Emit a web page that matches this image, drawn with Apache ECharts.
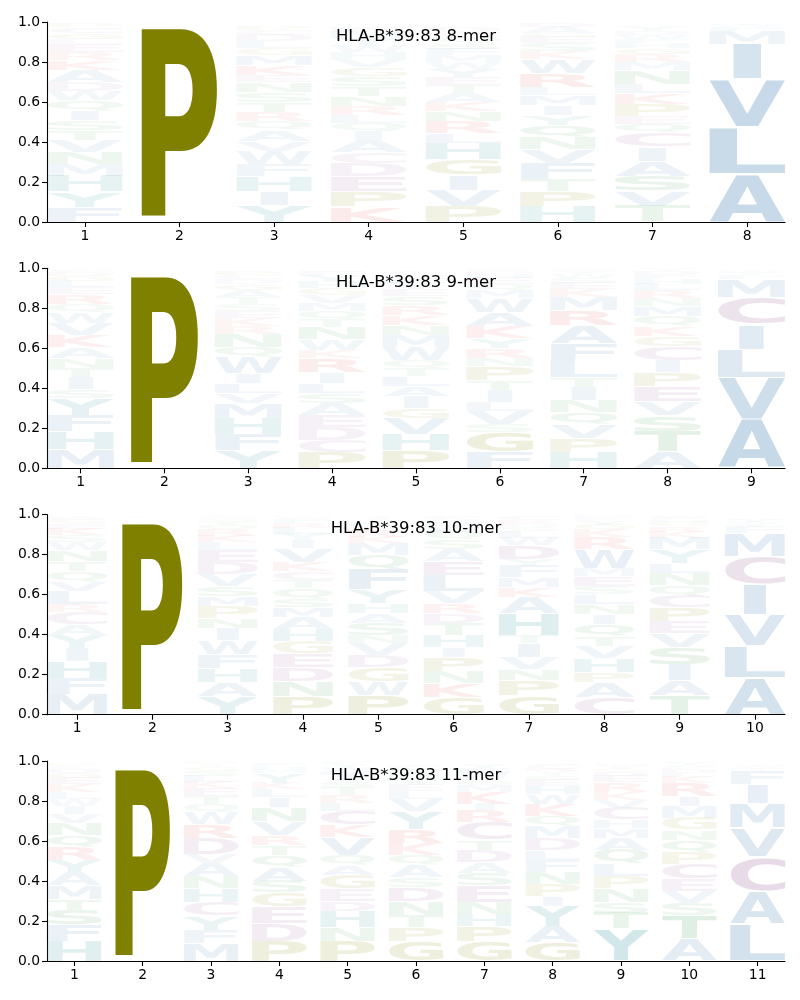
<!DOCTYPE html>
<html>
<head>
<meta charset="utf-8">
<script src="https://cdn.jsdelivr.net/npm/echarts@6/dist/echarts.min.js"></script>
<style>
html,body{margin:0;padding:0;background:#fff;}
#chart{width:800px;height:1000px;}
</style>
</head>
<body>
<div id="chart"></div>
<script>
// ---------- DATA (letters stacked bottom -> top, heights = frequency) ----------
const titles = ['HLA-B*39:83 8-mer', 'HLA-B*39:83 9-mer', 'HLA-B*39:83 10-mer', 'HLA-B*39:83 11-mer'];
const yTicks = [0, 0.2, 0.4, 0.6, 0.8, 1.0];

const mer8Letters = ['FYHMNVTSIQWDAKRELGCP', 'APLV', 'YIHFWVAQRTSNEKMGLDCP', 'KPEDCAIQLRNTSGVHWYMF',
  'PVIGHLRNKATEYWMFSQCD', 'HPTFVNQYIMLRWKSEGAD', 'TVSAICQEPKLNMRGHFWDY', 'ALVIMFWTY'];
const mer8Heights = [
  [.075,.077,.078,.058,.062,.058,.05,.05,.05,.05,.045,.045,.06,.05,.04,.04,.025,.03,.03,.02],
  [.005,.985,.005,.005],
  [.085,.07,.075,.06,.065,.05,.055,.045,.045,.05,.05,.05,.035,.05,.05,.035,.035,.03,.025,.02],
  [.077,.075,.075,.065,.055,.06,.045,.04,.04,.045,.05,.05,.05,.045,.04,.035,.035,.035,.03,.025],
  [.08,.08,.075,.08,.08,.05,.06,.05,.045,.045,.04,.04,.04,.035,.035,.03,.03,.03,.025,.025],
  [.08,.075,.06,.08,.07,.06,.06,.05,.05,.05,.04,.07,.07,.04,.04,.03,.02,.03,.02],
  [.08,.075,.075,.075,.07,.07,.045,.04,.06,.055,.045,.07,.04,.04,.03,.025,.02,.02,.02,.025],
  [.24,.235,.24,.175,.065,.02,.01,.005,.005]
];

const mer9Letters = ['MHFYSITNAKVWQRELGDC', 'APLV', 'YFHMVLIWQNRKESTAGDCP', 'PCDEASLIRKWNTQMVGHYF',
  'PHVGIALTQWMNKRSEYFDC', 'FGSVLITPNRYKAWMQEHDC', 'HPVQNITLFARMKESWYG', 'ATSVEPICGKQMNRLHFDY', 'AVLICMFTW'];
const mer9Heights = [
  [.095,.09,.08,.085,.045,.06,.045,.05,.055,.06,.06,.055,.04,.05,.035,.03,.025,.02,.015],
  [.005,.98,.005,.005],
  [.09,.08,.08,.075,.05,.05,.05,.08,.05,.065,.04,.04,.035,.035,.035,.035,.03,.025,.02,.02],
  [.08,.06,.065,.06,.06,.05,.05,.055,.07,.04,.055,.06,.04,.04,.04,.04,.035,.03,.03,.025],
  [.09,.08,.08,.05,.06,.05,.05,.04,.04,.065,.06,.05,.05,.05,.045,.035,.03,.025,.02,.015],
  [.08,.1,.04,.065,.045,.06,.05,.07,.04,.05,.05,.06,.07,.07,.04,.03,.03,.02,.015,.01],
  [.08,.07,.07,.06,.06,.065,.05,.08,.09,.09,.075,.065,.04,.03,.025,.02,.015,.01],
  [.085,.1,.08,.07,.075,.07,.06,.07,.05,.05,.05,.05,.04,.04,.03,.025,.02,.02,.01],
  [.245,.21,.14,.125,.135,.09,.02,.01,.01]
];

const mer10Letters = ['MFHIYACRLVQTNWSKEGDP', 'APLV', 'YAHFWINPMSVDELKRQTGC', 'PNDEGHAMSQTCKVIYLRFW',
  'PWGDVNSAHYFQMKRELITC', 'GKNPIHTDRVLEASQWMYFC', 'GPNVITHAKMFYDWLSQERC', 'CAPHVTQINLSEMWRKGYFD',
  'TAISVEPCQNLYMKRGHFW', 'ALVICMFTWYS'];
const mer10Heights = [
  [.1,.08,.085,.065,.065,.055,.06,.04,.065,.05,.05,.05,.055,.04,.035,.035,.025,.02,.015,.005],
  [.005,.98,.005,.005],
  [.09,.07,.07,.07,.07,.06,.05,.06,.05,.05,.06,.06,.06,.04,.035,.03,.025,.02,.015,.01],
  [.09,.075,.07,.07,.06,.06,.06,.05,.045,.05,.04,.045,.045,.07,.04,.035,.03,.025,.02,.015],
  [.095,.07,.07,.06,.06,.04,.06,.05,.05,.07,.1,.07,.06,.035,.03,.025,.02,.015,.01,.005],
  [.085,.07,.06,.07,.05,.06,.06,.05,.05,.06,.08,.07,.06,.05,.04,.03,.02,.015,.01,.005],
  [.095,.075,.055,.06,.07,.04,.11,.08,.05,.05,.06,.03,.07,.04,.03,.02,.015,.01,.01,.02],
  [.085,.075,.05,.07,.06,.05,.06,.05,.05,.05,.04,.05,.04,.095,.06,.04,.025,.02,.015,.01],
  [.095,.075,.08,.085,.07,.06,.07,.06,.05,.06,.05,.07,.06,.03,.025,.02,.015,.01,.01],
  [.185,.16,.155,.15,.14,.115,.035,.015,.01,.01,.005]
];

const mer11Letters = ['HFSTMAYRQNVIWLKEGDCP', 'APLV', 'MFYCHNAVDRWQTEKLSGIP', 'PDEGSAQTRVNILKYMHFW',
  'PNHDEGAQVKCLRTSIMWYF', 'GPTNDSAQKRYVLEIMHFWC', 'GPHNESADTCRIKMQLVWFY', 'GAYIPNFLDMQKWHESTVRC',
  'YTSNPLQAMHCVKREDGIWF', 'ATSVECPQNGMIRKLDFWYH', 'LACVMIFTWY'];
const mer11Heights = [
  [.1,.08,.075,.055,.07,.065,.06,.065,.06,.06,.045,.04,.035,.035,.04,.03,.025,.02,.015,.01],
  [.005,.98,.005,.005],
  [.09,.065,.07,.07,.07,.06,.065,.045,.08,.07,.06,.04,.04,.04,.03,.03,.025,.02,.015,.01],
  [.1,.09,.08,.07,.06,.07,.06,.05,.05,.07,.07,.05,.04,.03,.05,.02,.015,.01,.005],
  [.1,.07,.08,.05,.06,.07,.05,.05,.09,.06,.07,.04,.04,.04,.03,.03,.02,.02,.015,.01],
  [.1,.07,.06,.07,.07,.05,.06,.05,.06,.07,.09,.06,.04,.03,.02,.02,.01,.01,.02,.02],
  [.1,.075,.06,.06,.08,.065,.055,.06,.05,.09,.06,.03,.06,.03,.02,.01,.01,.03,.02,.02],
  [.095,.08,.1,.05,.06,.06,.06,.05,.06,.06,.05,.06,.05,.04,.03,.02,.015,.01,.01,.025],
  [.16,.08,.055,.07,.06,.06,.07,.06,.05,.04,.06,.04,.04,.05,.03,.02,.015,.01,.01,.005],
  [.11,.115,.065,.06,.06,.075,.06,.06,.05,.06,.06,.05,.065,.03,.02,.02,.01,.01,.01,.005],
  [.185,.165,.17,.145,.125,.095,.065,.015,.01,.005]
];

// ---------- STYLE ----------
const groupColor = {
  AVLIMFW: [70, 130, 180],
  PG: [128, 128, 0],
  KR: [225, 60, 60],
  DEC: [150, 90, 150],
  STNQ: [50, 150, 70],
  HY: [30, 135, 145]
};
function baseColor(ch) {
  for (const k in groupColor) if (k.indexOf(ch) >= 0) return groupColor[k];
  return [128, 128, 128];
}
function letterColor(ch, h) {
  const a = Math.min(1, 0.01 + 1.2 * h);
  const c = baseColor(ch);
  return 'rgba(' + c[0] + ',' + c[1] + ',' + c[2] + ',' + a.toFixed(3) + ')';
}

const FONT_PX = 200;
const FONT = 'bold ' + FONT_PX + 'px "DejaVu Sans"';
const mctx = document.createElement('canvas').getContext('2d');
mctx.font = FONT; mctx.textBaseline = 'middle'; mctx.textAlign = 'left';
const metricCache = {};
function metrics(ch) {
  if (!metricCache[ch]) {
    const m = mctx.measureText(ch);
    metricCache[ch] = { l: m.actualBoundingBoxLeft, r: m.actualBoundingBoxRight,
      a: m.actualBoundingBoxAscent, d: m.actualBoundingBoxDescent };
  }
  return metricCache[ch];
}
const EM = metrics('E');
const E_WIDTH = EM.l + EM.r;
const VPAD = 0.05;
const HALF_W = 0.4;

const panels = [
  { title: titles[0], letters: mer8Letters, heights: mer8Heights },
  { title: titles[1], letters: mer9Letters, heights: mer9Heights },
  { title: titles[2], letters: mer10Letters, heights: mer10Heights },
  { title: titles[3], letters: mer11Letters, heights: mer11Heights }
];
const gridTops = [22, 268.33, 514.67, 761];
const GRID_H = 200;

const option = { animation: false, backgroundColor: '#fff', grid: [], xAxis: [], yAxis: [], series: [], graphic: [] };

panels.forEach((p, gi) => {
  const n = p.letters.length;
  const items = [];
  p.letters.forEach((str, ci) => {
    let y = 0;
    for (let k = 0; k < str.length; k++) {
      const h = p.heights[ci][k];
      items.push({ x: ci + 1, y0: y, y1: y + h, ch: str[k], color: letterColor(str[k], h) });
      y += h;
    }
  });
  const positions = [];
  for (let i = 1; i <= n; i++) positions.push(i);

  option.grid.push({ left: 47, right: 15, top: gridTops[gi], height: GRID_H });
  option.xAxis.push({
    type: 'value', gridIndex: gi, min: 1 - HALF_W, max: n + HALF_W,
    axisLine: { show: true, onZero: false, lineStyle: { color: '#000', width: 1.1 } },
    axisTick: { show: true, length: 5, customValues: positions, lineStyle: { color: '#000', width: 1.1 } },
    axisLabel: { customValues: positions, color: '#000', fontSize: 13.9, fontFamily: 'DejaVu Sans', margin: 7 },
    splitLine: { show: false }
  });
  option.yAxis.push({
    type: 'value', gridIndex: gi, min: 0, max: 1, interval: 0.2,
    axisLine: { show: true, lineStyle: { color: '#000', width: 1.1 } },
    axisTick: { show: true, length: 5, lineStyle: { color: '#000', width: 1.1 } },
    axisLabel: { color: '#000', fontSize: 13.9, fontFamily: 'DejaVu Sans', margin: 7,
      formatter: v => v.toFixed(1) },
    splitLine: { show: false }
  });
  option.series.push({
    type: 'custom', xAxisIndex: gi, yAxisIndex: gi, clip: false,
    data: items.map(d => [d.x, d.y0, d.y1]),
    encode: { x: 0, y: [1, 2] },
    renderItem: function (params, api) {
      const it = items[params.dataIndex];
      const tl = api.coord([it.x - HALF_W, it.y1]);
      const br = api.coord([it.x + HALF_W, it.y0]);
      const w = br[0] - tl[0];
      const hTot = br[1] - tl[1];
      const pad = hTot * VPAD / 2;
      const top = tl[1] + pad;
      const h = hTot - 2 * pad;
      if (h <= 0) return null;
      const m = metrics(it.ch);
      const gw = m.l + m.r, gh = m.a + m.d;
      const sx = w / Math.max(gw, E_WIDTH);
      const sy = h / gh;
      const left = tl[0] + (w - gw * sx) / 2;
      return {
        type: 'text', silent: true,
        x: left + m.l * sx, y: top + m.a * sy, scaleX: sx, scaleY: sy,
        style: { text: it.ch, x: 0, y: 0, font: FONT, fill: it.color, align: 'left', verticalAlign: 'middle' }
      };
    }
  });
  option.graphic.push({
    type: 'text', x: 416, y: gridTops[gi] + 14.5, z: 100,
    style: { text: p.title, font: '16.5px "DejaVu Sans"', fill: '#000', align: 'center', verticalAlign: 'middle' }
  });
});

const chart = echarts.init(document.getElementById('chart'), null, { renderer: 'canvas' });
chart.setOption(option);
</script>
</body>
</html>
